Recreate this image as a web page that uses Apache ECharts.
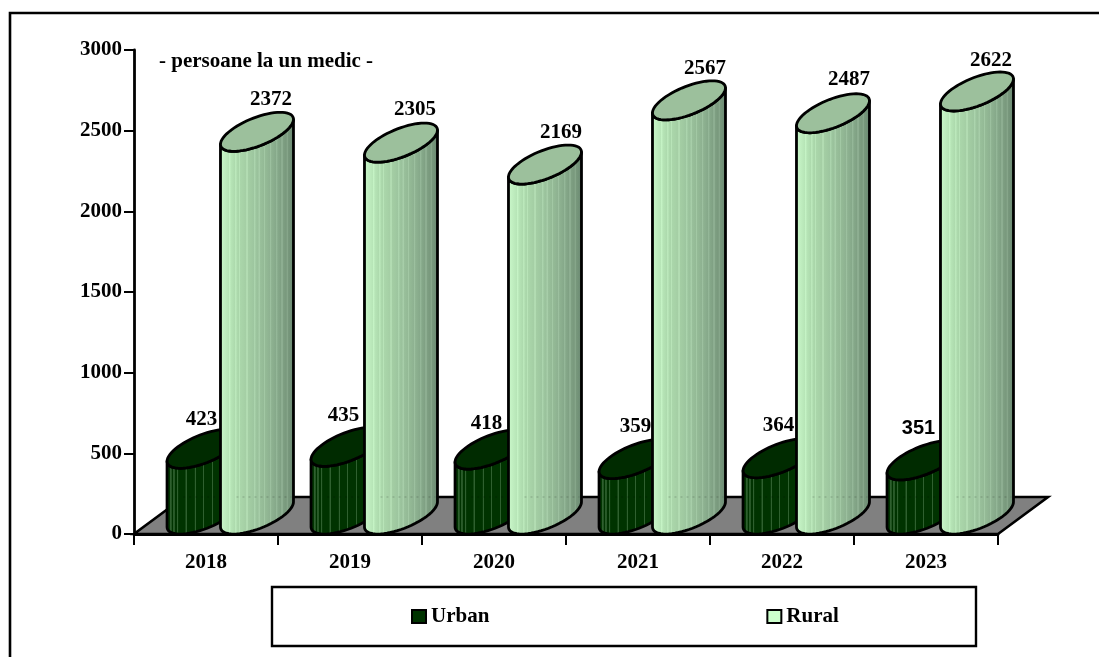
<!DOCTYPE html>
<html>
<head>
<meta charset="utf-8">
<style>html,body{margin:0;padding:0;background:#fff}#c{width:1099px;height:657px}</style>
<script src="https://cdn.jsdelivr.net/npm/echarts@6/dist/echarts.min.js"></script>
</head>
<body>
<div id="c"></div>
<script>
const categories = ['2018','2019','2020','2021','2022','2023'];
const urban = [423,435,418,359,364,351];
const rural = [2372,2305,2169,2567,2487,2622];
const yTicks = {min:0,max:3000,interval:500};

// label nudges relative to the top of each cylinder, in pixels
const urbanShift = [[-2,-46],[-4,-48],[-5,-43],[0,-50],[-1,-50],[-5,-49]];
const ruralShift = [[14,-52],[14,-53],[16,-51],[16,-51],[16,-53],[14,-50]];

const FONT = '"Liberation Serif", "Times New Roman", serif';
const SIZE = 21;
const RX = 36.5, TILT = 12.5, RY = 15, LIFT = 19.5, STROKE = 2.8;

function ell(cx, cy, t){ return [cx + RX*Math.cos(t), cy - TILT*Math.cos(t) - RY*Math.sin(t)]; }
function arc(cx, cy, a, b, n){ const r=[]; for(let i=0;i<=n;i++){ r.push(ell(cx,cy,a+(b-a)*i/n)); } return r; }

const urbanStops = (function(){
  const s=[]; const lines=[.07,.11,.16,.27,.39,.5,.62,.72,.8,.88];
  s.push({offset:0,color:'#0a3f0a'});
  lines.forEach(p=>{
    s.push({offset:p-.01,color:'#003300'});
    s.push({offset:p-.006,color:'#2f602f'});
    s.push({offset:p+.006,color:'#2f602f'});
    s.push({offset:p+.01,color:'#003300'});
  });
  s.push({offset:1,color:'#002800'});
  return s;
})();

function lerpColor(base, p){
  for(let i=1;i<base.length;i++){
    if(p<=base[i][0]){
      const f=(p-base[i-1][0])/(base[i][0]-base[i-1][0]);
      const c=[0,1,2].map(k=>Math.round(base[i-1][1][k]+(base[i][1][k]-base[i-1][1][k])*f));
      return c;
    }
  }
  return base[base.length-1][1];
}
const ruralStops = (function(){
  const base=[[0,[190,235,190]],[.04,[198,244,198]],[.2,[174,220,174]],[.45,[159,200,160]],[.7,[140,176,144]],[.9,[120,152,124]],[1,[103,133,112]]];
  const lines=[.14,.22,.27,.37,.47,.53,.6,.68,.76,.83,.9];
  const s=[];
  const col=(c)=>'rgb('+c.join(',')+')';
  s.push({offset:0,color:col(lerpColor(base,0))});
  s.push({offset:.04,color:col(lerpColor(base,.04))});
  lines.forEach(p=>{
    const c=lerpColor(base,p);
    const light=c.map(v=>Math.min(255,v+14));
    s.push({offset:p-.012,color:col(c)});
    s.push({offset:p-.008,color:col(light)});
    s.push({offset:p+.008,color:col(light)});
    s.push({offset:p+.012,color:col(c)});
  });
  s.push({offset:1,color:col(lerpColor(base,1))});
  return s;
})();

function cylinder(shifts, offsetBand, stops, topColor, labelFont, topDrop){
  return function(params, api){
    const i = params.dataIndex;
    const v = api.value(1);
    const band = api.size([1,0])[0];
    const p = api.coord([i,v]);
    const zero = api.coord([i,0]);
    const cx = p[0] + offsetBand*band;
    const topY = p[1]-LIFT+topDrop, botY = zero[1]-LIFT;
    const front = arc(cx,topY,Math.PI,2*Math.PI,32).concat(arc(cx,botY,2*Math.PI,Math.PI,32));
    const rim = arc(cx,topY,0,2*Math.PI,64);
    const backY = params.coordSys.y + params.coordSys.height - 37;
    const sh = shifts[i];
    return {type:'group',children:[
      {type:'polygon',shape:{points:front},style:{
        fill:new echarts.graphic.LinearGradient(0,0,1,0,stops),stroke:'#000',lineWidth:STROKE,lineJoin:'round'}},
      {type:'line',shape:{x1:cx-RX+16,y1:backY,x2:cx+RX-2,y2:backY},style:{stroke:'rgba(0,0,0,0.14)',lineWidth:1.5,lineDash:[2,4]}},
      {type:'polygon',shape:{points:rim},style:{fill:topColor,stroke:'#000',lineWidth:STROKE}},
      {type:'text',style:{text:String(v),x:cx+sh[0],y:p[1]+sh[1],align:'center',verticalAlign:'middle',
        font:labelFont(i),fill:'#000'}}
    ]};
  };
}
function dataOf(arr){ return arr.map((v,i)=>[i,v]); }

const option = {
  animation:false,
  backgroundColor:'#fff',
  title:{text:'- persoane la un medic -',left:159,top:51,padding:0,
    textStyle:{fontFamily:FONT,fontWeight:'bold',fontSize:SIZE,color:'#000',lineHeight:22}},
  graphic:[
    {type:'rect',shape:{x:10,y:13,width:1300,height:900},style:{fill:'none',stroke:'#000',lineWidth:2.6},z:0,silent:true},
    {type:'rect',shape:{x:272,y:587,width:704,height:59},style:{fill:'#fff',stroke:'#000',lineWidth:2.4},z:0,silent:true}
  ],
  grid:{left:134,top:50,width:864,height:484,containLabel:false},
  legend:{
    show:true,left:411,top:606,itemWidth:14,itemHeight:13,itemGap:277,padding:0,selectedMode:false,
    textStyle:{fontFamily:FONT,fontWeight:'bold',fontSize:SIZE,color:'#000'},
    data:[
      {name:'Urban',icon:'rect',itemStyle:{color:'#003300',borderColor:'#000',borderWidth:2}},
      {name:'Rural',icon:'rect',itemStyle:{color:'#ccffcc',borderColor:'#000',borderWidth:2}}
    ]
  },
  xAxis:{type:'category',data:categories,boundaryGap:true,z:6,
    axisLine:{show:true,onZero:true,lineStyle:{color:'#000',width:2.8}},
    axisTick:{show:true,alignWithLabel:false,length:11,lineStyle:{color:'#000',width:2}},
    axisLabel:{fontFamily:FONT,fontWeight:'bold',fontSize:SIZE,color:'#000',margin:18},
    splitLine:{show:false}},
  yAxis:{type:'value',min:yTicks.min,max:yTicks.max,interval:yTicks.interval,z:6,
    axisLine:{show:true,lineStyle:{color:'#000',width:2.8}},
    axisTick:{show:true,length:10,lineStyle:{color:'#000',width:2}},
    axisLabel:{fontFamily:FONT,fontWeight:'bold',fontSize:SIZE,color:'#000',margin:12,formatter:v=>String(v)},
    splitLine:{show:false}},
  series:[
    {type:'custom',name:'floor',silent:true,z:2,data:[[0,0]],encode:{x:0,y:1},clip:false,
      renderItem:function(params){
        const g=params.coordSys, b=g.y+g.height, d=50, h=37;
        return {type:'polygon',shape:{points:[[g.x,b],[g.x+g.width,b],[g.x+g.width+d,b-h],[g.x+d,b-h]]},
          style:{fill:'#808080',stroke:'#000',lineWidth:2.6,lineJoin:'miter'}};
      }},
    {type:'custom',name:'Urban',z:3,clip:false,data:dataOf(urban),encode:{x:0,y:1},
      itemStyle:{color:'#003300'},
      renderItem:cylinder(urbanShift,-0.017,urbanStops,'#002b00',
        i=>i===5?'bold 20px "Liberation Sans", Arial, sans-serif':'bold '+SIZE+'px '+FONT,2.5)},
    {type:'custom',name:'Rural',z:4,clip:false,data:dataOf(rural),encode:{x:0,y:1},
      itemStyle:{color:'#ccffcc'},
      renderItem:cylinder(ruralShift,0.354,ruralStops,'#9cc09c',
        i=>'bold '+SIZE+'px '+FONT,0)}
  ]
};
echarts.init(document.getElementById('c'),null,{renderer:'canvas'}).setOption(option);
</script>
</body>
</html>
